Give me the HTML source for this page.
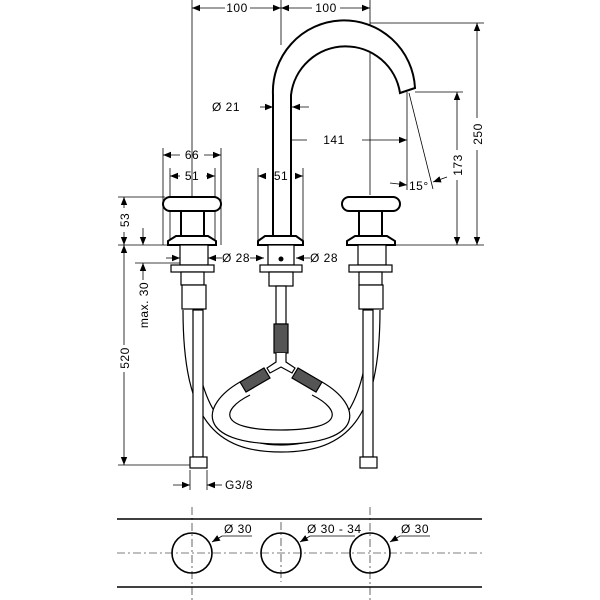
<!DOCTYPE html>
<html><head><meta charset="utf-8"><style>
html,body{margin:0;padding:0;background:#fff}
svg{display:block}
text{font-family:"Liberation Sans",sans-serif;font-size:12px;fill:#000;letter-spacing:0.5px}
</style></head><body>
<svg width="600" height="600" viewBox="0 0 600 600" xmlns="http://www.w3.org/2000/svg">
<defs>
<marker id="a" viewBox="0 0 10 10" refX="10" refY="5" markerWidth="8" markerHeight="8" orient="auto-start-reverse" markerUnits="userSpaceOnUse"><path d="M0,1 L10,5 L0,9 z" fill="#000"/></marker>
</defs>
<g stroke="#000" fill="none" stroke-width="0.8">
<line x1="192" y1="0" x2="192" y2="196"/>
<line x1="281" y1="0" x2="281" y2="45"/>
<line x1="370" y1="0" x2="370" y2="195"/>
<line x1="370" y1="23" x2="484" y2="23"/>
<line x1="396" y1="245" x2="484" y2="245"/>
<line x1="415" y1="92" x2="463" y2="92"/>
<line x1="407" y1="92" x2="407" y2="190"/>
<line x1="409" y1="93" x2="433" y2="189"/>
<line x1="163" y1="148" x2="163" y2="245"/>
<line x1="221" y1="148" x2="221" y2="245"/>
<line x1="170" y1="168" x2="170" y2="240"/>
<line x1="215" y1="168" x2="215" y2="240"/>
<line x1="258" y1="168" x2="258" y2="240"/>
<line x1="303" y1="168" x2="303" y2="240"/>
<line x1="118" y1="197" x2="165" y2="197"/>
<line x1="118" y1="245" x2="168" y2="245"/>
<line x1="135" y1="263" x2="180" y2="263"/>
<line x1="118" y1="465" x2="190" y2="465"/>
<line x1="190" y1="470" x2="190" y2="490"/>
<line x1="207" y1="470" x2="207" y2="490"/>
<line x1="192" y1="8" x2="225" y2="8" marker-start="url(#a)"/>
<line x1="250" y1="8" x2="281" y2="8" marker-end="url(#a)"/>
<line x1="281" y1="8" x2="312" y2="8" marker-start="url(#a)"/>
<line x1="340" y1="8" x2="370" y2="8" marker-end="url(#a)"/>
<line x1="260" y1="107" x2="273" y2="107" marker-end="url(#a)"/>
<line x1="309" y1="107" x2="292" y2="107" marker-end="url(#a)"/>
<line x1="282" y1="140" x2="307" y2="140" marker-start="url(#a)"/>
<line x1="362" y1="140" x2="407" y2="140" marker-end="url(#a)"/>
<line x1="477" y1="23" x2="477" y2="118" marker-start="url(#a)"/>
<line x1="477" y1="150" x2="477" y2="245" marker-end="url(#a)"/>
<line x1="457" y1="92" x2="457" y2="150" marker-start="url(#a)"/>
<line x1="457" y1="180" x2="457" y2="245" marker-end="url(#a)"/>
<line x1="390" y1="183" x2="407" y2="185" marker-end="url(#a)"/>
<line x1="447" y1="177" x2="433" y2="182" marker-end="url(#a)"/>
<line x1="163" y1="155" x2="180" y2="155" marker-start="url(#a)"/>
<line x1="204" y1="155" x2="221" y2="155" marker-end="url(#a)"/>
<line x1="170" y1="176" x2="180" y2="176" marker-start="url(#a)"/>
<line x1="206" y1="176" x2="215" y2="176" marker-end="url(#a)"/>
<line x1="258" y1="176" x2="266" y2="176" marker-start="url(#a)"/>
<line x1="296" y1="176" x2="303" y2="176" marker-end="url(#a)"/>
<line x1="124" y1="197" x2="124" y2="208" marker-start="url(#a)"/>
<line x1="124" y1="232" x2="124" y2="245" marker-end="url(#a)"/>
<line x1="143" y1="228" x2="143" y2="245" marker-end="url(#a)"/>
<line x1="124" y1="245" x2="124" y2="345" marker-start="url(#a)"/>
<line x1="124" y1="372" x2="124" y2="465" marker-end="url(#a)"/>
<line x1="143" y1="263" x2="143" y2="280" marker-start="url(#a)"/>
<line x1="166" y1="258" x2="180" y2="258" marker-end="url(#a)"/>
<line x1="222" y1="258" x2="208" y2="258" marker-end="url(#a)"/>
<line x1="250" y1="258" x2="264" y2="258" marker-end="url(#a)"/>
<line x1="310" y1="258" x2="296" y2="258" marker-end="url(#a)"/>
<line x1="173" y1="485" x2="190" y2="485" marker-end="url(#a)"/>
<line x1="222" y1="485" x2="207" y2="485" marker-end="url(#a)"/>
</g>
<g stroke="#000" fill="#fff" stroke-width="2">
<path d="M273,235 L273,95 A70,70 0 0 1 415,88 L400,93 A55,55 0 0 0 291,95 L291,235"/>
<path d="M258,245 L303,245 L303,241 L296,236 L265,236 L258,241 Z"/>
<rect x="181" y="208" width="23" height="30"/>
<rect x="163" y="197" width="58" height="14" rx="7"/>
<path d="M168,245 L216,245 L216,241 L208,236 L176,236 L168,241 Z"/>
<rect x="359" y="208" width="23" height="30"/>
<rect x="342" y="197" width="58" height="14" rx="7"/>
<path d="M347,245 L395,245 L395,241 L387,236 L355,236 L347,241 Z"/>
</g>
<g stroke="#000" fill="#fff" stroke-width="1.2">
<rect x="180" y="245" width="28" height="20"/>
<rect x="171" y="265" width="43" height="7"/>
<rect x="181" y="272" width="23" height="13"/>
<rect x="182" y="285" width="24" height="24"/>
<rect x="358" y="245" width="28" height="20"/>
<rect x="349" y="265" width="43" height="7"/>
<rect x="359" y="272" width="23" height="13"/>
<rect x="359" y="285" width="24" height="24"/>
<rect x="268" y="245" width="26" height="20"/>
<rect x="260" y="265" width="42" height="7"/>
<rect x="269" y="272" width="24" height="14"/>
<path d="M183,310 C183,420 215,452 281,452 C347,452 380,420 380,310"/>
<path d="M193,310 C195,410 225,445 281,445 C337,445 368,410 370,310"/>
<path d="M240,382 C200,405 195,444 281,444 C367,444 362,405 322,382"/>
<path d="M250,395 C220,410 218,430 281,430 C344,430 342,410 312,395"/>
<rect x="193" y="310" width="10" height="147"/>
<rect x="190" y="457" width="17" height="11"/>
<rect x="363" y="310" width="10" height="147"/>
<rect x="360" y="457" width="17" height="11"/>
<rect x="276" y="286" width="10" height="38"/>
<rect x="274" y="324" width="14" height="29" fill="#555"/>
<path d="M276,353 L276,362 L267,368 L270,373 L281,367 L292,373 L295,368 L286,362 L286,353"/>
<path d="M240,382 L264,368 L270,378 L246,392 Z" fill="#555"/>
<path d="M322,382 L298,368 L292,378 L316,392 Z" fill="#555"/>
</g>
<circle cx="281" cy="259" r="2.5" fill="#000"/>
<g font-size="12">
<text x="237" y="12" text-anchor="middle">100</text>
<text x="326" y="12" text-anchor="middle">100</text>
<text x="212" y="111">Ø 21</text>
<text x="334" y="144" text-anchor="middle">141</text>
<text x="192" y="159" text-anchor="middle">66</text>
<text x="192" y="180" text-anchor="middle">51</text>
<text x="281" y="180" text-anchor="middle">51</text>
<text x="409" y="190">15°</text>
<text x="222" y="262">Ø 28</text>
<text x="310" y="262">Ø 28</text>
<text x="225" y="489">G3/8</text>
<text transform="translate(482,134) rotate(-90)" text-anchor="middle">250</text>
<text transform="translate(462,165) rotate(-90)" text-anchor="middle">173</text>
<text transform="translate(129,220) rotate(-90)" text-anchor="middle">53</text>
<text transform="translate(129,358) rotate(-90)" text-anchor="middle">520</text>
<text transform="translate(148,305) rotate(-90)" text-anchor="middle">max. 30</text>
</g>
<g stroke="#000" fill="none">
<line x1="117" y1="519" x2="482" y2="519" stroke-width="1.6"/>
<line x1="117" y1="587" x2="482" y2="587" stroke-width="1.6"/>
<line x1="117" y1="553" x2="482" y2="553" stroke-width="0.6" stroke-dasharray="8,3,2,3"/>
<line x1="192" y1="507" x2="192" y2="600" stroke-width="0.6" stroke-dasharray="8,3,2,3"/>
<line x1="281" y1="522" x2="281" y2="582" stroke-width="0.6" stroke-dasharray="8,3,2,3"/>
<line x1="370" y1="507" x2="370" y2="600" stroke-width="0.6" stroke-dasharray="8,3,2,3"/>
<circle cx="192" cy="553" r="20" stroke-width="1.6"/>
<circle cx="281" cy="553" r="20" stroke-width="1.6"/>
<circle cx="370" cy="553" r="20" stroke-width="1.6"/>
<g stroke-width="0.8">
<path d="M252,536 L222,536 L212,542" marker-end="url(#a)"/>
<path d="M355,536 L310,536 L300,542" marker-end="url(#a)"/>
<path d="M430,536 L400,536 L390,542" marker-end="url(#a)"/>
</g>
</g>
<text x="224" y="533">Ø 30</text>
<text x="307" y="533">Ø 30 - 34</text>
<text x="401" y="533">Ø 30</text>
</svg>
</body></html>
